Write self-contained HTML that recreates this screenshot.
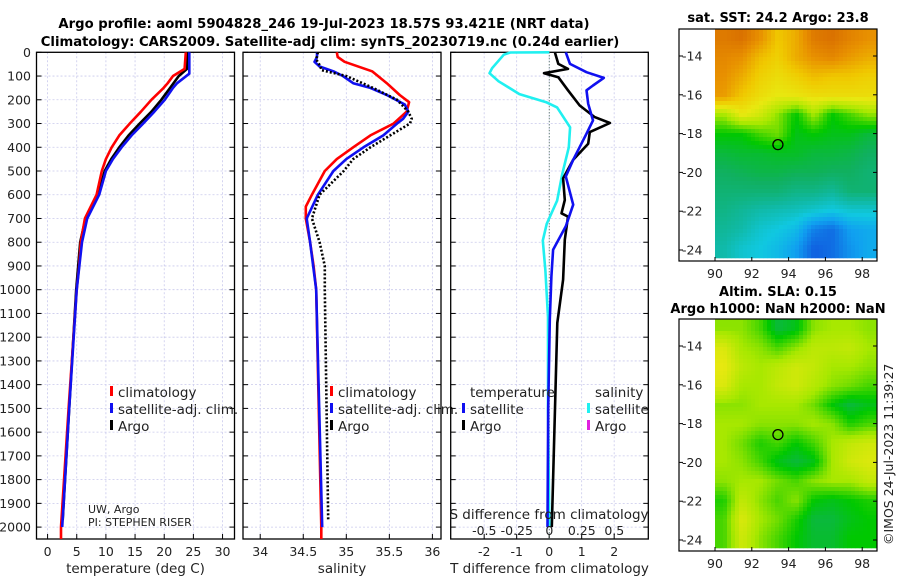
<!DOCTYPE html>
<html><head><meta charset="utf-8">
<style>
html,body{margin:0;padding:0;background:#fff;}
body{width:900px;height:580px;overflow:hidden;font-family:"DejaVu Sans","Liberation Sans",sans-serif;}
svg text{font-family:"DejaVu Sans","Liberation Sans",sans-serif;}
</style></head>
<body>
<svg id="fig" width="900" height="580" viewBox="0 0 900 580" xmlns="http://www.w3.org/2000/svg">
<text x="324" y="28" font-size="13.2" font-weight="bold" text-anchor="middle" fill="#000">Argo profile: aoml 5904828_246 19-Jul-2023 18.57S 93.421E (NRT data)</text>
<text x="330" y="46" font-size="13.2" font-weight="bold" text-anchor="middle" fill="#000">Climatology: CARS2009. Satellite-adj clim: synTS_20230719.nc (0.24d earlier)</text>
<text x="778" y="22" font-size="13" font-weight="bold" text-anchor="middle">sat. SST: 24.2 Argo: 23.8</text>
<text x="778" y="296" font-size="13" font-weight="bold" text-anchor="middle">Altim. SLA: 0.15</text>
<text x="778" y="313" font-size="13" font-weight="bold" text-anchor="middle">Argo h1000: NaN h2000: NaN</text>
<text transform="translate(893,545) rotate(-90)" font-size="12.5" fill="#222">©IMOS 24-Jul-2023 11:39:27</text>
<g id="layer"></g>
</svg>
<script>
// ---------- data ----------
const tickDepths = [0,100,200,300,400,500,600,700,800,900,1000,1100,1200,1300,1400,1500,1600,1700,1800,1900,2000];
const tempTicks = [0,5,10,15,20,25,30];
const salTicks = [34,34.5,35,35.5,36];
const salTickLabels = ["34","34.5","35","35.5","36"];
const tdiffTicks = [-2,-1,0,1,2];
const sdiffTicks = [-0.5,-0.25,0,0.25,0.5];
const sdiffTickLabels = ["-0.5","-0.25","0","0.25","0.5"];

const climTempDepth = [0,70,100,130,150,200,250,300,350,400,450,500,600,700,800,900,1000,1500,2000,2050];
const climTemp      = [23.7,23.5,21.5,20.6,19.9,17.8,16.0,14.1,12.3,11.0,10.0,9.3,8.4,6.4,5.7,5.4,5.0,3.6,2.3,2.3];
const satTempDepth  = [0,90,130,150,200,250,300,350,400,450,500,600,700,800,1000,1500,2000];
const satTemp       = [24.3,24.3,22.2,21.5,20.1,18.3,16.4,14.4,12.7,11.2,10.0,8.85,6.8,5.9,5.0,3.7,2.5];
const argoTempDepth = [0,70,100,150,200,250,300,350,400,450,500,600,700,800,1000,1500,1970];
const argoTemp      = [23.9,23.9,22.5,21.0,19.5,17.8,15.8,13.9,12.3,10.9,9.8,8.7,6.5,5.6,4.9,3.7,2.6];

const climSalDepth = [0,20,40,80,130,180,210,250,300,350,400,450,500,600,650,700,800,900,1000,2000,2050];
const climSal      = [34.89,34.9,34.98,35.30,35.47,35.62,35.73,35.70,35.55,35.28,35.08,34.89,34.75,34.60,34.53,34.53,34.58,34.62,34.65,34.71,34.71];
const satSalDepth  = [0,20,40,60,80,100,130,150,180,220,250,280,300,350,400,450,500,600,700,800,1000,2000];
const satSal       = [34.66,34.66,34.63,34.69,34.85,34.96,35.08,35.28,35.47,35.68,35.72,35.66,35.59,35.43,35.20,35.00,34.85,34.67,34.54,34.58,34.65,34.72];
const argoSalDepth = [0,30,60,75,100,150,200,250,280,300,350,400,450,500,600,700,800,900,1000,1970];
const argoSal      = [34.67,34.65,34.70,34.71,35.00,35.31,35.59,35.72,35.76,35.74,35.51,35.28,35.08,34.97,34.69,34.60,34.69,34.75,34.75,34.79];

const satSDiffDepth = [0,1,10,67,88,122,176,211,232,316,400,512,625,723,793,920,1116,1500,2000];
const satSDiff      = [0,-0.30,-0.35,-0.44,-0.46,-0.39,-0.23,-0.02,0.06,0.16,0.15,0.10,0.06,-0.02,-0.05,-0.03,-0.01,-0.01,0];
const satTDiffDepth = [0,49,84,108,140,160,217,287,343,453,523,642,733,832,944,1126,1500,2000];
const satTDiff      = [0.51,0.64,1.15,1.68,1.35,1.15,1.2,1.35,1.15,0.74,0.51,0.74,0.51,0.12,0.07,0.02,-0.03,-0.05];
const argoTDiffDepth = [2,49,70,88,105,160,224,273,298,336,385,453,531,622,678,692,790,958,1140,1500,2000];
const argoTDiff      = [0.18,0.28,0.58,-0.16,0.28,0.58,0.94,1.40,1.87,1.25,1.2,0.74,0.43,0.48,0.38,0.58,0.48,0.43,0.25,0.18,0.08];

const sstGrid = [
[.95,.97,.9,.8,.85,.95,.97,.93,.9],
[.92,.9,.82,.78,.85,.9,.92,.88,.85],
[.9,.85,.78,.75,.78,.82,.8,.8,.78],
[.88,.8,.75,.72,.73,.75,.75,.75,.75],
[.62,.72,.68,.6,.5,.62,.5,.55,.6],
[.5,.5,.55,.58,.48,.5,.48,.48,.45],
[.45,.46,.46,.47,.47,.45,.45,.44,.42],
[.42,.43,.44,.44,.43,.43,.42,.42,.4],
[.4,.4,.4,.4,.38,.38,.36,.4,.4],
[.38,.36,.34,.33,.32,.3,.28,.3,.3],
[.36,.34,.3,.28,.25,.15,.12,.2,.22],
[.34,.3,.28,.25,.2,.1,.12,.18,.22]];
const slaGrid = [
[.6,.6,.55,.45,.48,.6,.62,.62,.6],
[.7,.62,.6,.55,.6,.65,.65,.66,.62],
[.72,.65,.62,.65,.68,.66,.62,.62,.6],
[.7,.62,.62,.66,.68,.64,.6,.58,.55],
[.6,.6,.62,.62,.62,.58,.5,.45,.48],
[.62,.62,.6,.6,.6,.62,.6,.52,.55],
[.62,.58,.52,.55,.5,.55,.62,.66,.68],
[.62,.6,.55,.48,.45,.48,.62,.68,.7],
[.6,.62,.62,.58,.55,.6,.62,.62,.66],
[.52,.66,.6,.55,.6,.5,.48,.5,.52],
[.55,.7,.62,.58,.52,.45,.45,.48,.5],
[.55,.68,.6,.55,.5,.46,.46,.5,.5]];
const lonTicks = [90,92,94,96,98];
const latTicks = [-14,-16,-18,-20,-22,-24];
const floatLon = [93.42];
const floatLat = [-18.57];

// ---------- helpers ----------
const NS="http://www.w3.org/2000/svg";
const layer=document.getElementById('layer');
function el(tag,attrs,parent){const e=document.createElementNS(NS,tag);for(const k in attrs)e.setAttribute(k,attrs[k]);(parent||layer).appendChild(e);return e;}
const TOP=52.3, BOT=539, Y0=52.3, YS=0.2374;
const yD=d=>Y0+d*YS;
function panel(name,x0,x1,dom,ticks,labels,xlabel){
  const sx=v=>x0+(v-dom[0])/(dom[1]-dom[0])*(x1-x0);
  const g=el('g',{});
  
  
  ticks.forEach((t,i)=>{
    const l=el('line',{x1:sx(t),x2:sx(t),y1:TOP,y2:BOT,stroke:'#c9c9ec','stroke-width':0.8,'stroke-dasharray':'2,2'},g);
    
    
    el('line',{x1:sx(t),x2:sx(t),y1:BOT,y2:BOT-5,stroke:'#000','stroke-width':1},g);
    const tx=el('text',{x:sx(t),y:556,'font-size':12.5,'text-anchor':'middle',fill:'#222'},g);
    tx.textContent=labels[i];
    
    
  });
  tickDepths.forEach(d=>{
    el('line',{x1:x0,x2:x1,y1:yD(d),y2:yD(d),stroke:'#c9c9ec','stroke-width':0.8,'stroke-dasharray':'2,2'},g);
    el('line',{x1:x0,x2:x0+5,y1:yD(d),y2:yD(d),stroke:'#000'},g);
    el('line',{x1:x1,x2:x1-5,y1:yD(d),y2:yD(d),stroke:'#000'},g);
  });
  const fr=el('rect',{x:x0,y:TOP,width:x1-x0,height:BOT-TOP,fill:'none',stroke:'#000','stroke-width':1.3},g);
  
  
  const xl=el('text',{x:(x0+x1)/2,y:573,'font-size':13.5,'text-anchor':'middle',fill:'#222'},g);
  xl.textContent=xlabel;
  
  
  return {g,sx};
}
function line(p,vals,depths,color,name,w,dash){
  const pts=vals.map((v,i)=>p.sx(v).toFixed(1)+','+yD(depths[i]).toFixed(1)).join(' ');
  const a={points:pts,fill:'none',stroke:color,'stroke-width':w||2.6,'stroke-linejoin':'round'};
  if(dash)a['stroke-dasharray']=dash;
  const l=el('polyline',a,p.g);
  
  
}
function text(x,y,s,size,name,anchor,fill){
  const t=el('text',{x:x,y:y,'font-size':size,'text-anchor':anchor||'start',fill:fill||'#222'});
  t.textContent=s;
  
  
  return t;
}
function legend(x,y,items){
  items.forEach((it,i)=>{
    const m=el('rect',{x:x,y:y+i*17-11,width:3,height:10,fill:it[1]});
    
    
    text(x+8,y+i*17,it[0],13.5,'legend-entry');
  });
}

// y tick labels
tickDepths.forEach(d=>{text(31,yD(d)+4.5,String(d),12.5,'y-tick-label','end');});

// ---------- panel 1: temperature ----------
const p1=panel('temperature-panel',36.5,234.5,[-1.9,32.05],tempTicks,tempTicks.map(String),'temperature (deg C)');
line(p1,argoTemp,argoTempDepth,'#000','argo-temperature-line');
line(p1,climTemp,climTempDepth,'#f00','climatology-temperature-line');
line(p1,satTemp,satTempDepth,'#1010f0','satellite-temperature-line');
legend(110,397,[['climatology','#f00'],['satellite-adj. clim.','#1010f0'],['Argo','#000']]);
text(88,513,'UW, Argo',11,'pi-institution-label');
text(88,526,'PI: STEPHEN RISER',11,'pi-name-label');

// ---------- panel 2: salinity ----------
const p2=panel('salinity-panel',243,441,[33.8,36.1],salTicks,salTickLabels,'salinity');
line(p2,climSal,climSalDepth,'#f00','climatology-salinity-line');
line(p2,satSal,satSalDepth,'#1010f0','satellite-salinity-line');
line(p2,argoSal,argoSalDepth,'#000','argo-salinity-line',2.6,'2,2');
legend(330,397,[['climatology','#f00'],['satellite-adj. clim.','#1010f0'],['Argo','#000']]);

// ---------- panel 3: differences ----------
const p3=panel('difference-panel',450.7,648.3,[-3.03,3.05],tdiffTicks,tdiffTicks.map(String),'T difference from climatology');
const ps={g:p3.g,sx:v=>549.3+v*130};
el('line',{x1:549.3,x2:549.3,y1:TOP,y2:BOT,stroke:'#465','stroke-width':1,'stroke-dasharray':'1,2'},p3.g);
line(ps,satSDiff,satSDiffDepth,'#20f0f0','satellite-salinity-difference-line');
line(p3,argoTDiff,argoTDiffDepth,'#000','argo-temperature-difference-line');
line(p3,satTDiff,satTDiffDepth,'#1010f0','satellite-temperature-difference-line');
text(470,397,'temperature',13.5,'legend-title-temperature');
text(595,397,'salinity',13.5,'legend-title-salinity');
legend(462,414,[['satellite','#1010f0'],['Argo','#000']]);
legend(587,414,[['satellite','#20f0f0'],['Argo','#e020e0']]);
text(549,519,'S difference from climatology',13.5,'s-axis-title','middle');
sdiffTicks.forEach((t,i)=>{text(ps.sx(t),535,sdiffTickLabels[i],12.5,'s-tick-label','middle');});

// ---------- maps ----------
function cmap(v){
  const stops=[[0,[0,40,200]],[0.1,[16,96,224]],[0.2,[16,160,240]],[0.28,[16,200,224]],[0.35,[16,184,160]],[0.42,[16,176,96]],[0.5,[0,200,0]],[0.62,[168,232,0]],[0.72,[232,232,16]],[0.8,[240,200,0]],[0.9,[232,144,0]],[1,[212,100,0]]];
  v=Math.max(0,Math.min(1,v));
  for(let i=1;i<stops.length;i++){if(v<=stops[i][0]){const a=stops[i-1],b=stops[i],f=(v-a[0])/(b[0]-a[0]);return 'rgb('+a[1].map((c,k)=>Math.round(c+(b[1][k]-c)*f)).join(',')+')';}}
  return 'rgb(212,100,0)';
}
function map(name,fy0,fy1,iy1,lat14y,grid,cell){
  const g=el('g',{});
  
  
  const fx0=679,fx1=877,ix0=715;
  const lonx=l=>715+(l-90)*18.4, laty=l=>lat14y+(-14-l)*19.4;
  const W=fx1-ix0,H=iy1-fy0,R=grid.length,C=grid[0].length;
  for(let y=0;y<H;y+=cell){for(let x=0;x<W;x+=cell){
    const gx=Math.min(C-1.001,Math.max(0,(x+cell/2)/W*C-0.5)),gy=Math.min(R-1.001,Math.max(0,(y+cell/2)/H*R-0.5));
    const i=Math.floor(gy),j=Math.floor(gx),fy=gy-i,fx=gx-j;
    const v=grid[i][j]*(1-fx)*(1-fy)+grid[i][j+1]*fx*(1-fy)+grid[i+1][j]*(1-fx)*fy+grid[i+1][j+1]*fx*fy;
    el('rect',{x:ix0+x,y:fy0+y,width:Math.min(cell,W-x)+0.3,height:Math.min(cell,H-y)+0.3,fill:cmap(v)},g);
  }}
  el('rect',{x:fx0,y:fy0,width:fx1-fx0,height:fy1-fy0,fill:'none',stroke:'#000','stroke-width':1.2},g);
  lonTicks.forEach(l=>{
    el('line',{x1:lonx(l),x2:lonx(l),y1:fy1,y2:fy1-4,stroke:'#000'},g);
    const t=text(lonx(l),fy1+17,String(l),12.5,'map-lon-tick-label','middle');g.appendChild(t);
  });
  latTicks.forEach(l=>{
    el('line',{x1:fx0,x2:fx0+4,y1:laty(l),y2:laty(l),stroke:'#000'},g);
    el('line',{x1:fx1,x2:fx1-4,y1:laty(l),y2:laty(l),stroke:'#000'},g);
    const t=text(682,laty(l)+4.5,String(l),12.5,'map-lat-tick-label','start');g.appendChild(t);
  });
  floatLon.forEach((lo,i)=>{
    const c=el('circle',{cx:lonx(lo),cy:laty(floatLat[i]),r:5,fill:'none',stroke:'#000','stroke-width':1.3},g);
    
    
  });
}
map('sst-map',29,261,258,56,sstGrid,4);
map('sla-map',319,551,548,346,slaGrid,4);
</script>
</body></html>
